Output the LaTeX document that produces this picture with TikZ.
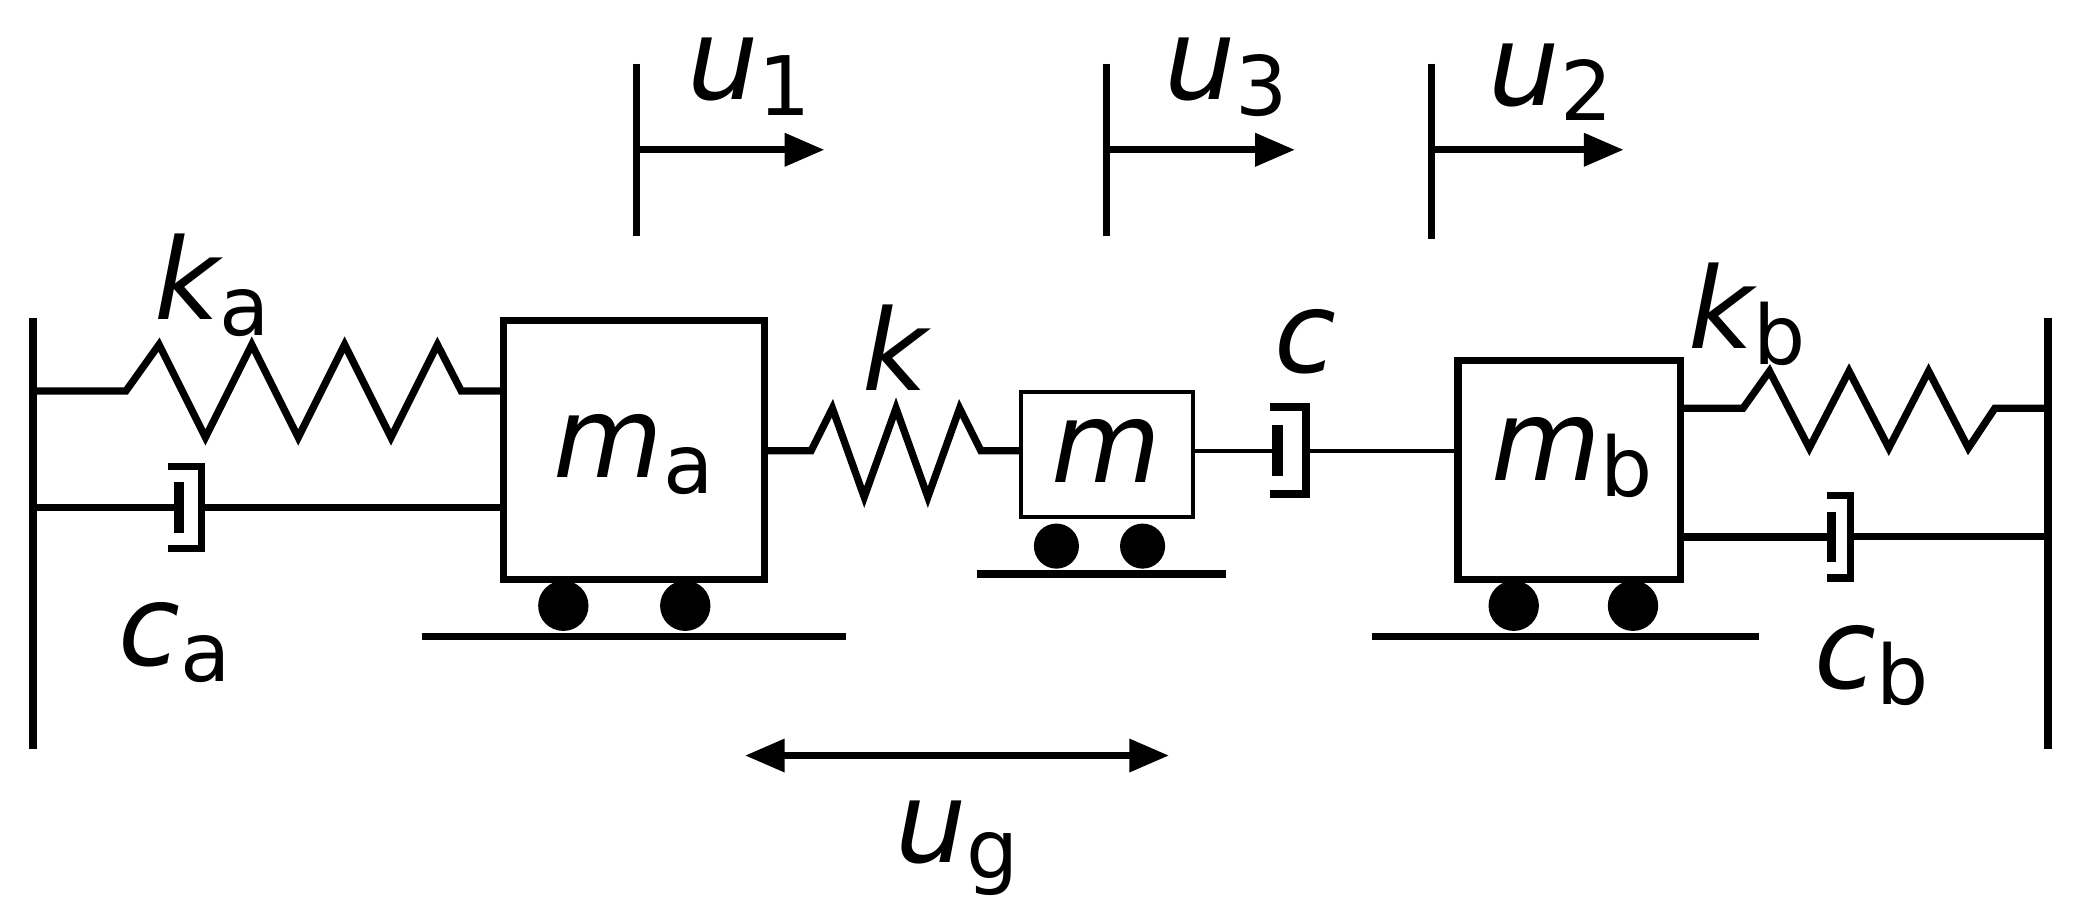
\documentclass[tikz,border=0pt]{standalone}
\usepackage{fontspec}
\setmainfont{DejaVu Sans}
\usetikzlibrary{arrows.meta,decorations.pathmorphing}
\begin{document}
\begin{tikzpicture}[x=1pt,y=-1pt,line join=miter,
  thk/.style={line width=5.5pt},
  thn/.style={line width=3pt},
  mass/.style={draw,line width=5.5pt},
  wheel/.style={fill=black,circle,inner sep=0pt,minimum size=38pt},
  lbl/.style={font=\fontsize{85}{90}\selectfont\itshape,inner sep=0pt},
  arr/.style={line width=5.5pt,-{Triangle[length=30pt,width=24pt]}}]
\useasboundingbox (0,0) rectangle (1570,686);
\newcommand\sub[1]{\raisebox{-12pt}{\textup{\fontsize{62}{66}\selectfont #1}}}
% walls
\draw[line width=6pt] (25,240) -- (25,565);
\draw[line width=6pt] (1545,240) -- (1545,565);
% masses
\node[mass,minimum width=197pt,minimum height=195pt] (ma) at (478.5,339.5) {};
\node[draw,line width=3pt,minimum width=130pt,minimum height=94pt] (m) at (835,343) {};
\node[mass,minimum width=168pt,minimum height=165pt] (mb) at (1184,354.5) {};
\node[lbl] at (478,343) {m\sub{a}};
\node[lbl] at (835,340) {m};
\node[lbl] at (1186,345) {m\sub{b}};
% wheels & ground
\node[wheel] (w1) at (425,457) {}; \node[wheel] (w2) at (517,457) {};
\node[wheel,minimum size=34pt] (w3) at (797,412) {}; \node[wheel,minimum size=34pt] (w4) at (862,412) {};
\node[wheel] (w5) at (1142,457) {}; \node[wheel] (w6) at (1232,457) {};
\draw[thk] (318,480) -- (638,480);
\draw[thk] (737,433) -- (925,433);
\draw[thk] (1035,480) -- (1327,480);
% spring ka
\draw[thk] (25,295) -- (95,295) -- (120,260) -- (155,330) -- (190,260) -- (225,330) -- (260,260) -- (295,330) -- (330,260) -- (348,295) -- (380,295);
% damper ca
\draw[thk] (25,383) -- (135,383);
\draw[line width=7pt] (135,364) -- (135,402);
\draw[thk] (127,352) -- (152,352) -- (152,414) -- (127,414);
\draw[thk] (152,383) -- (380,383);
% spring k
\draw[thk] (577,340) -- (612,340) -- (628,308) -- (652,375) -- (676,308) -- (700,375) -- (724,308) -- (740,340) -- (770,340);
% damper c
\draw[thn] (900,340) -- (964,340);
\draw[line width=8pt] (964,321) -- (964,359);
\draw[line width=6pt] (958,307) -- (985,307) -- (985,373) -- (958,373);
\draw[thn] (985,340) -- (1100,340);
% spring kb
\draw[thk] (1268,308) -- (1315,308) -- (1335,280) -- (1365,338) -- (1395,280) -- (1425,338) -- (1455,280) -- (1485,338) -- (1505,308) -- (1545,308);
% damper cb
\draw[line width=6.5pt] (1268,405) -- (1382,405);
\draw[line width=7pt] (1382,386) -- (1382,424);
\draw[thk] (1378,374) -- (1396,374) -- (1396,436) -- (1378,436);
\draw[thk] (1396,405) -- (1545,405);
% labels
\node[lbl] at (160,215) {k\sub{a}};
\node[lbl] at (132,485) {c\sub{a}};
\node[lbl] at (675,262) {k};
\node[lbl] at (985,258) {c};
\node[lbl] at (1318,237) {k\sub{b}};
\node[lbl] at (1412,502) {c\sub{b}};
% displacement markers
\coordinate (a1) at (480,113); \coordinate (b1) at (622,113);
\coordinate (a3) at (835,113); \coordinate (b3) at (977,113);
\coordinate (a2) at (1080,113); \coordinate (b2) at (1225,113);
\draw[thk] (480,48) -- (480,178); \draw[arr] (a1) -- (b1);
\draw[thk] (835,48) -- (835,178); \draw[arr] (a3) -- (b3);
\draw[thk] (1080,48) -- (1080,180); \draw[arr] (a2) -- (b2);
\node[lbl] at (565,58) {u\sub{1}};
\node[lbl] at (925,58) {u\sub{3}};
\node[lbl] at (1170,62) {u\sub{2}};
\coordinate (g1) at (562,570); \coordinate (g2) at (882,570);
\draw[line width=5.5pt,{Triangle[length=30pt,width=24pt]}-{Triangle[length=30pt,width=24pt]}] (g1) -- (g2);
\node[lbl] at (722,640) {u\sub{g}};
\end{tikzpicture}
\end{document}
